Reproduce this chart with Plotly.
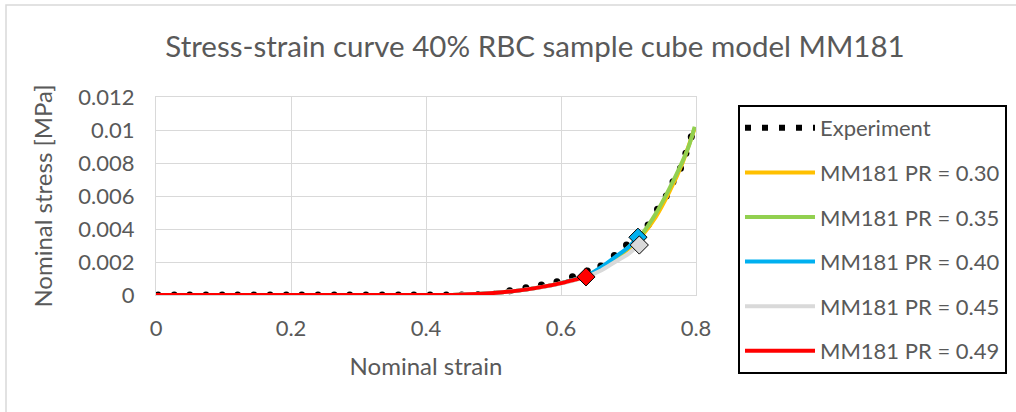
import plotly.graph_objects as go

# ---------------- data ----------------
exp_strain = [0.003, 0.027, 0.050, 0.074, 0.098, 0.121, 0.145, 0.169, 0.193, 0.216,
              0.240, 0.264, 0.287, 0.311, 0.335, 0.359, 0.382, 0.406, 0.430, 0.453,
              0.477, 0.501, 0.524, 0.548, 0.571, 0.594, 0.617, 0.639, 0.659, 0.679,
              0.697, 0.713, 0.729, 0.743, 0.756, 0.766, 0.777, 0.785, 0.793]
exp_stress = [0, 0, 0, 0, 0, 0, 0, 0, 0, 0,
              0, 0, 0, 0, 0, 0, 0, 0, 0, 0,
              0.00002, 0.00005, 0.00026, 0.00044, 0.00061, 0.00081, 0.00111, 0.00145, 0.00176, 0.00239,
              0.00303, 0.0037, 0.00424, 0.00519, 0.0060, 0.00687, 0.00768, 0.00859, 0.00959]

pr30_strain = [0, 0.1, 0.2, 0.3, 0.4, 0.45, 0.5, 0.55, 0.6, 0.64, 0.68, 0.70, 0.72, 0.74, 0.76, 0.78, 0.798]
pr30_stress = [0, 0, 0, 0, 0, 0.00002, 0.00012, 0.00034, 0.00072, 0.00118, 0.0021, 0.0028, 0.0036, 0.0047, 0.0062, 0.0080, 0.0101]

pr35_strain = [0, 0.1, 0.2, 0.3, 0.4, 0.45, 0.5, 0.55, 0.6, 0.64, 0.68, 0.70, 0.72, 0.74, 0.76, 0.78, 0.79, 0.798]
pr35_stress = [0, 0, 0, 0, 0, 0.00002, 0.00012, 0.00034, 0.00072, 0.0012, 0.0022, 0.0029, 0.0037, 0.0049, 0.0064, 0.0081, 0.0091, 0.0102]

pr40_strain = [0, 0.1, 0.2, 0.3, 0.4, 0.45, 0.5, 0.55, 0.6, 0.64, 0.66, 0.68, 0.70, 0.714]
pr40_stress = [0, 0, 0, 0, 0, 0.00002, 0.00012, 0.00034, 0.00072, 0.0012, 0.0017, 0.0023, 0.0029, 0.0035]

pr45_strain = [0, 0.1, 0.2, 0.3, 0.4, 0.45, 0.5, 0.55, 0.6, 0.64, 0.66, 0.68, 0.70, 0.716]
pr45_stress = [0, 0, 0, 0, 0, 0.00002, 0.00012, 0.00034, 0.0007, 0.00115, 0.0015, 0.0020, 0.0025, 0.00303]

pr49_strain = [0, 0.1, 0.2, 0.3, 0.4, 0.45, 0.5, 0.55, 0.6, 0.637]
pr49_stress = [0, 0, 0, 0, 0, 0.00002, 0.00012, 0.00034, 0.00072, 0.0011]

x_ticks = [0, 0.2, 0.4, 0.6, 0.8]
x_tick_labels = ["0", "0.2", "0.4", "0.6", "0.8"]
y_ticks = [0, 0.002, 0.004, 0.006, 0.008, 0.010, 0.012]
y_tick_labels = ["0", "0.002", "0.004", "0.006", "0.008", "0.01", "0.012"]

names = ["MM181 PR = 0.30", "MM181 PR = 0.35", "MM181 PR = 0.40", "MM181 PR = 0.45", "MM181 PR = 0.49"]
colors = ["#FFC000", "#92D050", "#00B0F0", "#D9D9D9", "#FF0000"]

# ---------------- figure ----------------
FONT = "Lato"
TXT = "#595959"
W, H = 1016, 412
fig = go.Figure()

# experiment dots
fig.add_trace(go.Scatter(x=exp_strain, y=exp_stress, mode="markers",
                         marker=dict(color="black", size=7, line=dict(width=0)),
                         showlegend=False, hoverinfo="skip"))
# legend entry for experiment (dotted line)
fig.add_trace(go.Scatter(x=[None], y=[None], mode="lines", name="Experiment",
                         line=dict(color="black", width=6, dash="6px,11px"),
                         legendgroup="exp"))

series = [(pr30_strain, pr30_stress, False), (pr35_strain, pr35_stress, False),
          (pr40_strain, pr40_stress, True), (pr45_strain, pr45_stress, True),
          (pr49_strain, pr49_stress, True)]
for (xs, ys, end_marker), nm, c in zip(series, names, colors):
    fig.add_trace(go.Scatter(x=xs, y=ys, mode="lines", name=nm,
                             line=dict(color=c, width=4, shape="spline", smoothing=0.6),
                             legendgroup=nm))
    if end_marker:
        fig.add_trace(go.Scatter(x=[xs[-1]], y=[ys[-1]], mode="markers",
                                 marker=dict(symbol="diamond", size=14, color=c,
                                             line=dict(color="black", width=1)),
                                 showlegend=False, hoverinfo="skip"))

L, R, T, B = 156, 320, 97, 117
PW, PH = W - L - R, H - T - B

def px(xp):
    return (xp - L) / PW

def py(yp):
    return (H - B - yp) / PH

fig.update_layout(
    width=W, height=H,
    margin=dict(l=L, r=R, t=T, b=B, autoexpand=False),
    paper_bgcolor="white", plot_bgcolor="white",
    font=dict(family=FONT, color=TXT, size=22),
    title=dict(text="Stress-strain curve 40% RBC sample cube model MM181",
               x=535 / W, xref="container", xanchor="center",
               y=1 - 47 / H, yref="container", yanchor="middle",
               font=dict(family=FONT, size=29.5, color=TXT)),
    xaxis=dict(range=[0, 0.8], tickvals=x_ticks, ticktext=x_tick_labels,
               showgrid=True, gridcolor="#D9D9D9", gridwidth=1.3,
               showline=True, linecolor="#D9D9D9", linewidth=1.3, mirror=True,
               zeroline=False, ticks="", ticklabelstandoff=13,
               tickfont=dict(size=22, color=TXT),
               title=dict(text="Nominal strain", font=dict(size=24, color=TXT), standoff=18)),
    yaxis=dict(range=[0, 0.012], tickvals=y_ticks, ticktext=y_tick_labels,
               showgrid=True, gridcolor="#D9D9D9", gridwidth=1.3,
               showline=True, linecolor="#D9D9D9", linewidth=1.3, mirror=True,
               zeroline=False, ticks="", ticklabelstandoff=16,
               tickfont=dict(size=22, color=TXT),
               title=dict(text="Nominal stress [MPa]", font=dict(size=24, color=TXT), standoff=18)),
    legend=dict(x=px(738), y=py(105), xanchor="left", yanchor="top",
                xref="paper", yref="paper",
                bordercolor="black", borderwidth=2, bgcolor="white",
                font=dict(size=22, color=TXT), itemwidth=70,
                tracegroupgap=13, traceorder="grouped", maxheight=300),
    shapes=[dict(type="rect", xref="paper", yref="paper",
                 x0=px(6), x1=px(1030), y0=py(430), y1=py(5),
                 line=dict(color="#D9D9D9", width=1.5), layer="below")],
)

fig.write_html("out.html")
